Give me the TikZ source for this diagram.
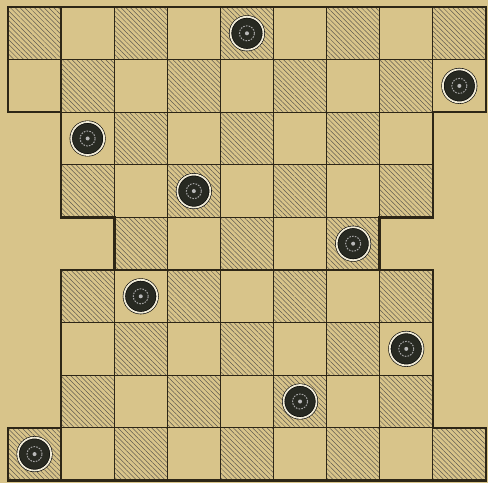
\documentclass[tikz,border=0pt]{standalone}
\usetikzlibrary{patterns.meta}
\definecolor{paper}{RGB}{216,196,138}
\definecolor{ink}{RGB}{45,38,22}
\definecolor{disc}{RGB}{40,42,34}
\tikzset{
  hatch/.style={pattern={Lines[angle=-45,distance=3.4pt,line width=0.5pt]}, pattern color=ink!75},
  gridline/.style={draw=ink, line width=1.3pt},
  border/.style={draw=ink, line width=2.6pt, line join=miter},
  checker/.style={circle, minimum size=33pt, inner sep=0pt, fill=disc, draw=black,
    line width=0.6pt, double={rgb,255:red,240;green,235;blue,215}, double distance=1.8pt,
    path picture={\draw[gray!70, line width=1pt, dash pattern=on 1.6pt off 1.2pt]
      (path picture bounding box.center) circle (7.5pt);
      \fill[gray!55] (path picture bounding box.center) circle (2pt);}}
}
\begin{document}
\begin{tikzpicture}
\fill[paper] (0,0) rectangle (488pt,483pt);
\useasboundingbox (0,0) rectangle (488pt,483pt);
\begin{scope}[shift={(8pt,476pt)}, x=53.1pt, y=-52.6pt]
\foreach \r/\a/\b in {0/0/8, 1/0/8, 2/1/7, 3/1/7, 4/2/6, 5/1/7, 6/1/7, 7/1/7, 8/0/8} {
  \foreach \c in {\a,...,\b} {
    \pgfmathtruncatemacro{\parity}{mod(\r+\c,2)}
    \ifnum\parity=0 \fill[hatch] (\c,\r) rectangle ++(1,1); \fi
    \draw[gridline] (\c,\r) rectangle ++(1,1);
  }
}
\draw[border] (0,0) -- (9,0) -- (9,2) -- (8,2) -- (8,4) -- (7,4) -- (7,5) -- (8,5)
  -- (8,8) -- (9,8) -- (9,9) -- (0,9) -- (0,8) -- (1,8) -- (1,5) -- (2,5) -- (2,4)
  -- (1,4) -- (1,2) -- (0,2) -- cycle;
\node[checker] (k1) at (4.5,0.5) {};
\node[checker] (k2) at (8.5,1.5) {};
\node[checker] (k3) at (1.5,2.5) {};
\node[checker] (k4) at (3.5,3.5) {};
\node[checker] (k5) at (6.5,4.5) {};
\node[checker] (k6) at (2.5,5.5) {};
\node[checker] (k7) at (7.5,6.5) {};
\node[checker] (k8) at (5.5,7.5) {};
\node[checker] (k9) at (0.5,8.5) {};
\end{scope}
\end{tikzpicture}
\end{document}
